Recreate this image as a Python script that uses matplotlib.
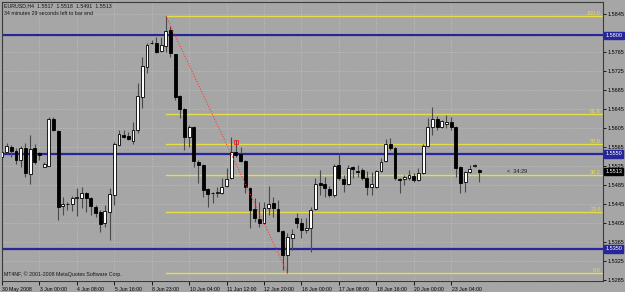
import matplotlib
matplotlib.use("Agg")
import matplotlib.pyplot as plt
import matplotlib.transforms as mtransforms

# EURUSD H4 candles (open, high, low, close)
opens = [1.5544, 1.5554, 1.5565, 1.5556, 1.5537, 1.5563, 1.5508, 1.5563, 1.5552, 1.5523,
         1.5525, 1.5624, 1.5598, 1.5441, 1.5444, 1.5445, 1.5458, 1.5458, 1.5468, 1.5458,
         1.5439, 1.5428, 1.5405, 1.5428, 1.5464, 1.5569, 1.5590, 1.5588, 1.5577, 1.5600,
         1.5670, 1.5733, 1.5783, 1.5783, 1.5766, 1.5777, 1.5810, 1.5760, 1.5672, 1.5645,
         1.5586, 1.5607, 1.5533, 1.5527, 1.5476, 1.5468, 1.5468, 1.5468, 1.5483, 1.5499,
         1.5554, 1.5550, 1.5535, 1.5479, 1.5434, 1.5413, 1.5405, 1.5436, 1.5447, 1.5434,
         1.5388, 1.5337, 1.5373, 1.5415, 1.5405, 1.5390, 1.5394, 1.5434, 1.5489, 1.5487,
         1.5476, 1.5464, 1.5527, 1.5497, 1.5487, 1.5523, 1.5514, 1.5516, 1.5499, 1.5481,
         1.5481, 1.5514, 1.5535, 1.5571, 1.5563, 1.5497, 1.5497, 1.5499, 1.5504, 1.5495,
         1.5510, 1.5567, 1.5607, 1.5624, 1.5607, 1.5613, 1.5617, 1.5607, 1.5523, 1.5491,
         1.5512, 1.5525, 1.5517]
highs = [1.5563, 1.5573, 1.5569, 1.5563, 1.5567, 1.5573, 1.5590, 1.5571, 1.5554, 1.5533,
         1.5628, 1.5628, 1.5600, 1.5460, 1.5449, 1.5462, 1.5479, 1.5481, 1.5470, 1.5460,
         1.5443, 1.5432, 1.5443, 1.5479, 1.5575, 1.5600, 1.5600, 1.5596, 1.5617, 1.5699,
         1.5754, 1.5783, 1.5789, 1.5796, 1.5796, 1.5841, 1.5819, 1.5760, 1.5674, 1.5647,
         1.5611, 1.5609, 1.5537, 1.5529, 1.5479, 1.5470, 1.5481, 1.5499, 1.5521, 1.5586,
         1.5579, 1.5565, 1.5537, 1.5481, 1.5458, 1.5449, 1.5449, 1.5483, 1.5460, 1.5453,
         1.5390, 1.5384, 1.5392, 1.5426, 1.5415, 1.5415, 1.5439, 1.5499, 1.5516, 1.5502,
         1.5483, 1.5529, 1.5552, 1.5506, 1.5527, 1.5525, 1.5527, 1.5521, 1.5514, 1.5512,
         1.5516, 1.5542, 1.5582, 1.5584, 1.5565, 1.5499, 1.5506, 1.5516, 1.5510, 1.5521,
         1.5571, 1.5626, 1.5649, 1.5630, 1.5622, 1.5632, 1.5628, 1.5609, 1.5525, 1.5514,
         1.5527, 1.5529, 1.5518]
lows = [1.5542, 1.5552, 1.5544, 1.5529, 1.5523, 1.5502, 1.5487, 1.5529, 1.5537, 1.5522,
        1.5525, 1.5598, 1.5411, 1.5422, 1.5432, 1.5430, 1.5420, 1.5436, 1.5428, 1.5422,
        1.5418, 1.5386, 1.5397, 1.5369, 1.5443, 1.5567, 1.5584, 1.5579, 1.5571, 1.5594,
        1.5647, 1.5720, 1.5781, 1.5762, 1.5764, 1.5764, 1.5754, 1.5663, 1.5626, 1.5558,
        1.5565, 1.5523, 1.5489, 1.5460, 1.5439, 1.5447, 1.5460, 1.5466, 1.5481, 1.5497,
        1.5544, 1.5533, 1.5468, 1.5395, 1.5407, 1.5397, 1.5403, 1.5422, 1.5418, 1.5386,
        1.5305, 1.5300, 1.5348, 1.5395, 1.5373, 1.5384, 1.5344, 1.5432, 1.5464, 1.5460,
        1.5460, 1.5460, 1.5495, 1.5470, 1.5485, 1.5499, 1.5502, 1.5495, 1.5464, 1.5464,
        1.5479, 1.5512, 1.5533, 1.5558, 1.5495, 1.5468, 1.5485, 1.5495, 1.5491, 1.5493,
        1.5508, 1.5565, 1.5590, 1.5600, 1.5605, 1.5605, 1.5600, 1.5502, 1.5468, 1.5470,
        1.5510, 1.5523, 1.5491]
closes = [1.5554, 1.5567, 1.5556, 1.5537, 1.5563, 1.5510, 1.5561, 1.5533, 1.5548, 1.5529,
          1.5624, 1.5600, 1.5439, 1.5445, 1.5445, 1.5458, 1.5460, 1.5468, 1.5458, 1.5441,
          1.5426, 1.5403, 1.5430, 1.5466, 1.5571, 1.5592, 1.5586, 1.5582, 1.5600, 1.5672,
          1.5735, 1.5779, 1.5784, 1.5764, 1.5779, 1.5808, 1.5762, 1.5670, 1.5645, 1.5586,
          1.5607, 1.5535, 1.5527, 1.5474, 1.5466, 1.5467, 1.5469, 1.5481, 1.5497, 1.5554,
          1.5548, 1.5535, 1.5481, 1.5432, 1.5415, 1.5405, 1.5436, 1.5445, 1.5436, 1.5388,
          1.5337, 1.5375, 1.5382, 1.5405, 1.5390, 1.5394, 1.5432, 1.5487, 1.5485, 1.5479,
          1.5464, 1.5525, 1.5499, 1.5487, 1.5521, 1.5518, 1.5513, 1.5499, 1.5481, 1.5487,
          1.5514, 1.5533, 1.5571, 1.5563, 1.5499, 1.5496, 1.5502, 1.5506, 1.5495, 1.5510,
          1.5567, 1.5607, 1.5624, 1.5607, 1.5619, 1.5617, 1.5607, 1.5521, 1.5489, 1.5512,
          1.5518, 1.5526, 1.5513]

time_labels = ["30 May 2008", "3 Jun 00:00", "4 Jun 08:00", "5 Jun 16:00", "8 Jun 23:00",
               "10 Jun 04:00", "11 Jun 12:00", "12 Jun 20:00", "16 Jun 00:00", "17 Jun 08:00",
               "18 Jun 16:00", "20 Jun 00:00", "23 Jun 04:00"]
time_label_bars = [0, 8, 16, 24, 32, 40, 48, 56, 64, 72, 80, 88, 96]

price_ticks = [1.5285, 1.5325, 1.5365, 1.5405, 1.5445, 1.5485, 1.5525, 1.5565,
               1.5605, 1.5645, 1.5685, 1.5725, 1.5765, 1.5805, 1.5845]

hlines_blue = [1.5800, 1.5550, 1.5350]

# fibo from swing high bar 35 to swing low bar 61
fib_start_bar = 35
fib_end_bar = 61
fib_high = 1.5841
fib_low = 1.5300
fib_levels = [0.0, 23.6, 38.2, 50.0, 61.8, 100.0]

current_price = 1.5513
marker_bar = 50
marker_price = 1.5576

# INIT
BG = '#a6a6a6'
GRID = '#c4c4c4'
YELLOW = '#e6de44'
BLUE = '#26269a'

plt.rcParams['font.family'] = ['Liberation Sans', 'DejaVu Sans']

W, H = 625, 292
fig = plt.figure(figsize=(W / 100, H / 100), dpi=100, facecolor=BG)
ax = fig.add_axes([2 / W, (H - 281) / H, 601 / W, 279 / H], facecolor=BG)

ax.set_xlim(0.043, 128.46)
ax.set_ylim(1.52826, 1.5870)

# grid + ticks (the 1.5805 label sits under the blue price box, so leave it blank)
ax.set_yticks(price_ticks)
ax.set_yticklabels(["" if abs(p - 1.5805) < 1e-6 else "%.4f" % p for p in price_ticks])
ax.set_xticks(time_label_bars)
ax.set_xticklabels(time_labels)
ax.grid(True, color=GRID, linestyle=(0, (1.5, 2)), linewidth=0.5, zorder=0)
ax.set_axisbelow(True)

ax.yaxis.tick_right()
ax.tick_params(axis='y', which='both', direction='out', length=2, width=0.6,
               labelsize=4.0, pad=1.5, colors='black')
ax.tick_params(axis='x', direction='out', length=3, width=0.6, labelsize=3.7,
               pad=1, colors='black')
offset = mtransforms.ScaledTranslation(0.5 / 100, 0, fig.dpi_scale_trans)
for lab in ax.get_xticklabels():
    lab.set_horizontalalignment('left')
    lab.set_transform(lab.get_transform() + offset)

for sp in ax.spines.values():
    sp.set_color('#3a3a3a')
    sp.set_linewidth(0.8)

# blue horizontal lines
for lvl in hlines_blue:
    ax.axhline(lvl, color=BLUE, linewidth=1.6, zorder=2)

# fibonacci levels
for lvl in fib_levels:
    price = fib_low + (fib_high - fib_low) * lvl / 100.0
    ax.plot([fib_start_bar, 128.46], [price, price], color=YELLOW, linewidth=1.0, zorder=2)
    ax.text(0.9965, price, "%.1f" % lvl, transform=ax.get_yaxis_transform(),
            ha='right', va='bottom', fontsize=4.0, color=YELLOW, zorder=3)

# candles
x = list(range(len(opens)))
ax.vlines(x, lows, highs, color='#4a4a4a', linewidth=0.8, zorder=3)
bull_x = [i for i in x if closes[i] >= opens[i]]
bear_x = [i for i in x if closes[i] < opens[i]]
ax.bar(bull_x, [closes[i] - opens[i] for i in bull_x], bottom=[opens[i] for i in bull_x],
       width=0.62, color='white', edgecolor='black', linewidth=0.6, zorder=4)
ax.bar(bear_x, [opens[i] - closes[i] for i in bear_x], bottom=[closes[i] for i in bear_x],
       width=0.62, color='black', edgecolor='black', linewidth=0.6, zorder=4)

# trend line + marker
ax.plot([fib_start_bar, fib_end_bar], [fib_high, fib_low], color='#ff3a3a',
        linestyle=(0, (1, 1.5)), linewidth=0.8, zorder=5)
ax.plot([marker_bar], [marker_price], marker='s', markersize=3, markerfacecolor='none',
        markeredgecolor='#e83030', markeredgewidth=0.7, zorder=5)

# timer text
ax.text(107.9, current_price, "<  34:29", fontsize=4.0, color='#202020', va='center', ha='left')

# price boxes at the right
for lvl in hlines_blue:
    ax.text(1.004, lvl, "%.4f" % lvl, transform=ax.get_yaxis_transform(), fontsize=4.0,
            color='white', va='center', ha='left', clip_on=False, zorder=10,
            bbox=dict(boxstyle='square,pad=0.2', facecolor=BLUE, edgecolor=BLUE))
ax.text(1.004, current_price, "%.4f" % current_price, transform=ax.get_yaxis_transform(),
        fontsize=4.0, color='white', va='center', ha='left', clip_on=False, zorder=10,
        bbox=dict(boxstyle='square,pad=0.2', facecolor='black', edgecolor='black'))

# header and footer texts
fig.text(4 / W, 1 - 3 / H, "EURUSD,H4  1.5517  1.5518  1.5491  1.5513", fontsize=3.8,
         color='#151515', va='top', ha='left')
fig.text(4 / W, 1 - 11 / H, "34 minutes 29 seconds left to bar end", fontsize=3.8,
         color='#151515', va='top', ha='left')
fig.text(4 / W, 1 - 271 / H, "MT4NF, \u00a9 2001-2008 MetaQuotes Software Corp.", fontsize=3.8,
         color='#151515', va='top', ha='left')

fig.savefig('out.png', dpi=100, facecolor=BG)
